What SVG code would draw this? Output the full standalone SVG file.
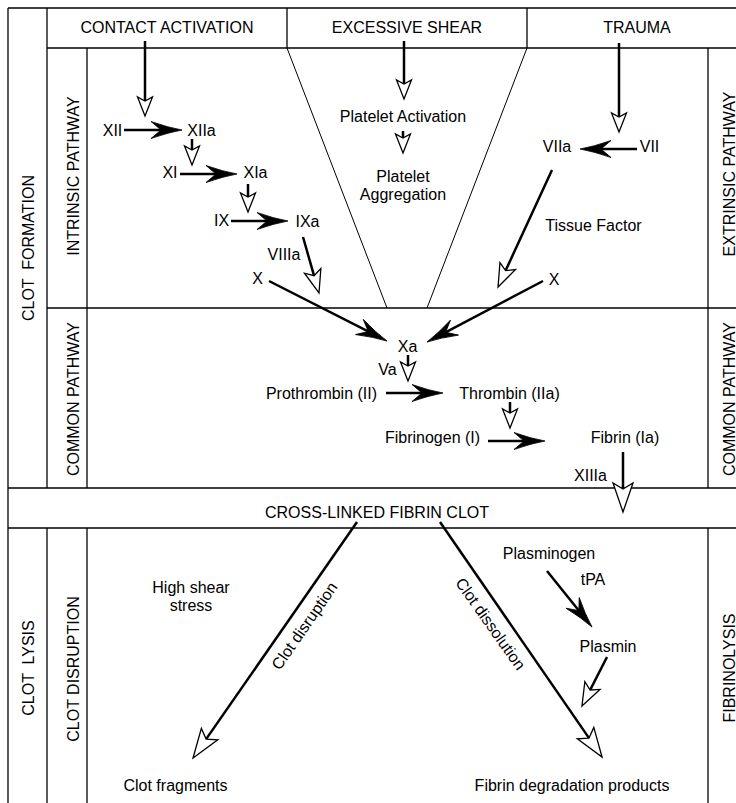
<svg xmlns="http://www.w3.org/2000/svg" width="736" height="803" viewBox="0 0 736 803">
<style>
  text { font-family: "Liberation Sans", Arial, Helvetica, sans-serif; font-size: 16px; fill: #000; text-anchor: middle; }
  .frame { stroke: #000; stroke-width: 1.3; fill: none; }
  .funnel { stroke: #000; stroke-width: 1; fill: none; }
  .arr { stroke: #000; stroke-width: 2.5; fill: none; }
  .arrF { marker-end: url(#filled); }
  .arrS { marker-end: url(#openS); }
  .arrM { marker-end: url(#openM); }
  .arrL { marker-end: url(#openL); }
</style>
<defs>
  <marker id="filled" markerUnits="userSpaceOnUse" markerWidth="40" markerHeight="20" refX="0" refY="0" orient="auto" overflow="visible">
    <path d="M8,0 Q-6,-2.5 -23,-8.5 L-13,0 L-23,8.5 Q-6,2.5 8,0 Z" fill="#000" stroke="#000" stroke-width="0.8"/>
  </marker>
  <marker id="openS" markerUnits="userSpaceOnUse" markerWidth="40" markerHeight="20" refX="0" refY="0" orient="auto" overflow="visible">
    <polygon points="8,0 -11,-7.5 -7,0 -11,7.5" fill="#fff" stroke="#000" stroke-width="1.3" stroke-linejoin="miter"/>
  </marker>
  <marker id="openM" markerUnits="userSpaceOnUse" markerWidth="40" markerHeight="20" refX="0" refY="0" orient="auto" overflow="visible">
    <polygon points="8,0 -15,-8.5 -10,0 -15,8.5" fill="#fff" stroke="#000" stroke-width="1.3" stroke-linejoin="miter"/>
  </marker>
  <marker id="openL" markerUnits="userSpaceOnUse" markerWidth="40" markerHeight="30" refX="0" refY="0" orient="auto" overflow="visible">
    <polygon points="8,0 -21,-10 -15,0 -21,10" fill="#fff" stroke="#000" stroke-width="1.3" stroke-linejoin="miter"/>
  </marker>
</defs>
<rect x="0" y="0" width="736" height="803" fill="#fff"/>

<g id="frame">
  <line class="frame" x1="8" y1="8" x2="8" y2="803"/>
  <line class="frame" x1="8" y1="8" x2="736" y2="8"/>
  <line class="frame" x1="47" y1="8" x2="47" y2="488"/>
  <line class="frame" x1="47" y1="528" x2="47" y2="803"/>
  <line class="frame" x1="87" y1="48" x2="87" y2="488"/>
  <line class="frame" x1="87" y1="528" x2="87" y2="803"/>
  <line class="frame" x1="47" y1="48" x2="736" y2="48"/>
  <line class="frame" x1="287" y1="8" x2="287" y2="48"/>
  <line class="frame" x1="527" y1="8" x2="527" y2="48"/>
  <line class="frame" x1="708" y1="48" x2="708" y2="488"/>
  <line class="frame" x1="708" y1="528" x2="708" y2="803"/>
  <line class="frame" x1="47" y1="308" x2="736" y2="308"/>
  <line class="frame" x1="8" y1="488" x2="736" y2="488"/>
  <line class="frame" x1="8" y1="528" x2="736" y2="528"/>
  <line class="funnel" x1="287" y1="48" x2="387" y2="308"/>
  <line class="funnel" x1="527" y1="48" x2="427" y2="308"/>
</g>

<g id="section-labels">
  <text xml:space="preserve" transform="translate(34,248) rotate(-90)">CLOT  FORMATION</text>
  <text transform="translate(79,176) rotate(-90)">INTRINSIC PATHWAY</text>
  <text transform="translate(79,399) rotate(-90)">COMMON PATHWAY</text>
  <text xml:space="preserve" transform="translate(34,668) rotate(-90)">CLOT  LYSIS</text>
  <text transform="translate(79,669) rotate(-90)">CLOT DISRUPTION</text>
  <text transform="translate(735,174) rotate(-90)">EXTRINSIC PATHWAY</text>
  <text transform="translate(735,399) rotate(-90)">COMMON PATHWAY</text>
  <text transform="translate(735,668) rotate(-90)">FIBRINOLYSIS</text>
</g>

<g id="contact-activation"><text x="167" y="33">CONTACT ACTIVATION</text></g>
<g id="excessive-shear"><text x="407" y="33">EXCESSIVE SHEAR</text></g>
<g id="trauma"><text x="637" y="33">TRAUMA</text></g>

<g id="xii"><text x="112.5" y="136">XII</text></g>
<g id="xiia"><text x="201.5" y="136">XIIa</text></g>
<g id="xi"><text x="170" y="178">XI</text></g>
<g id="xia"><text x="255.5" y="178">XIa</text></g>
<g id="ix"><text x="221.5" y="226">IX</text></g>
<g id="ixa"><text x="307.5" y="227">IXa</text></g>
<g id="viiia"><text x="284" y="260">VIIIa</text></g>
<g id="x-left"><text x="257.5" y="284">X</text></g>

<g id="platelet-activation"><text x="403" y="122">Platelet Activation</text></g>
<g id="platelet-aggregation"><text x="403" y="182">Platelet</text><text x="403" y="200">Aggregation</text></g>

<g id="viia"><text x="557" y="152">VIIa</text></g>
<g id="vii"><text x="649.5" y="152">VII</text></g>
<g id="tissue-factor"><text x="593.5" y="231">Tissue Factor</text></g>
<g id="x-right"><text x="554" y="285">X</text></g>

<g id="xa"><text x="407.5" y="352">Xa</text></g>
<g id="va"><text x="387.5" y="375">Va</text></g>
<g id="prothrombin"><text x="321.5" y="399">Prothrombin (II)</text></g>
<g id="thrombin"><text x="509.5" y="399">Thrombin (IIa)</text></g>
<g id="fibrinogen"><text x="432.5" y="443">Fibrinogen (I)</text></g>
<g id="fibrin"><text x="625" y="443">Fibrin (Ia)</text></g>
<g id="xiiia"><text x="590.5" y="481">XIIIa</text></g>

<g id="cross-linked-clot"><text x="377" y="518">CROSS-LINKED FIBRIN CLOT</text></g>

<g id="high-shear"><text x="191" y="593">High shear</text><text x="191" y="611">stress</text></g>
<g id="plasminogen"><text x="549" y="559">Plasminogen</text></g>
<g id="tpa"><text x="593" y="585">tPA</text></g>
<g id="plasmin"><text x="608" y="652">Plasmin</text></g>
<g id="clot-fragments"><text x="175.5" y="791">Clot fragments</text></g>
<g id="fibrin-degradation"><text x="572" y="791">Fibrin degradation products</text></g>

<g id="connectors">
  <line class="arr arrS" x1="145" y1="41" x2="145" y2="108"/>
  <line class="arr arrF" x1="124" y1="130" x2="174" y2="130"/>
  <line class="arr arrS" x1="192" y1="139" x2="192" y2="157"/>
  <line class="arr arrF" x1="180" y1="174" x2="229" y2="174"/>
  <line class="arr arrS" x1="248" y1="184" x2="248" y2="204"/>
  <line class="arr arrF" x1="231" y1="221" x2="280" y2="221"/>
  <line class="arr arrM" x1="303" y1="237" x2="316.8" y2="285.3"/>
  <line class="arr arrF" x1="269" y1="281" x2="379.9" y2="337.4"/>
  <line class="arr arrF" x1="543" y1="281" x2="434.1" y2="338.3"/>
  <line class="arr arrS" x1="404" y1="41" x2="404" y2="91"/>
  <line class="arr arrS" x1="403" y1="131" x2="403" y2="145"/>
  <line class="arr arrS" x1="619" y1="43" x2="619" y2="124"/>
  <line class="arr arrF" x1="637" y1="149" x2="588" y2="149"/>
  <line class="arr arrM" x1="552" y1="170" x2="501.4" y2="279.7"/>
  <line class="arr arrS" x1="408" y1="355" x2="408" y2="373"/>
  <line class="arr arrF" x1="386" y1="393" x2="435" y2="393"/>
  <line class="arr arrS" x1="510" y1="402" x2="510" y2="420"/>
  <line class="arr arrF" x1="488" y1="441" x2="537" y2="441"/>
  <line class="arr arrL" x1="623" y1="452" x2="623" y2="504"/>
  <line class="arr arrL" x1="357" y1="522" x2="197.6" y2="751.4"/>
  <line class="arr arrL" x1="440" y1="522" x2="597.5" y2="750.4"/>
  <line class="arr arrF" x1="547" y1="571" x2="587" y2="620.8"/>
  <line class="arr arrM" x1="607" y1="657" x2="585.6" y2="698.9"/>
  <text transform="translate(309,629) rotate(-55.2)">Clot disruption</text>
  <text transform="translate(486,627) rotate(54.7)">Clot dissolution</text>
</g>
</svg>
